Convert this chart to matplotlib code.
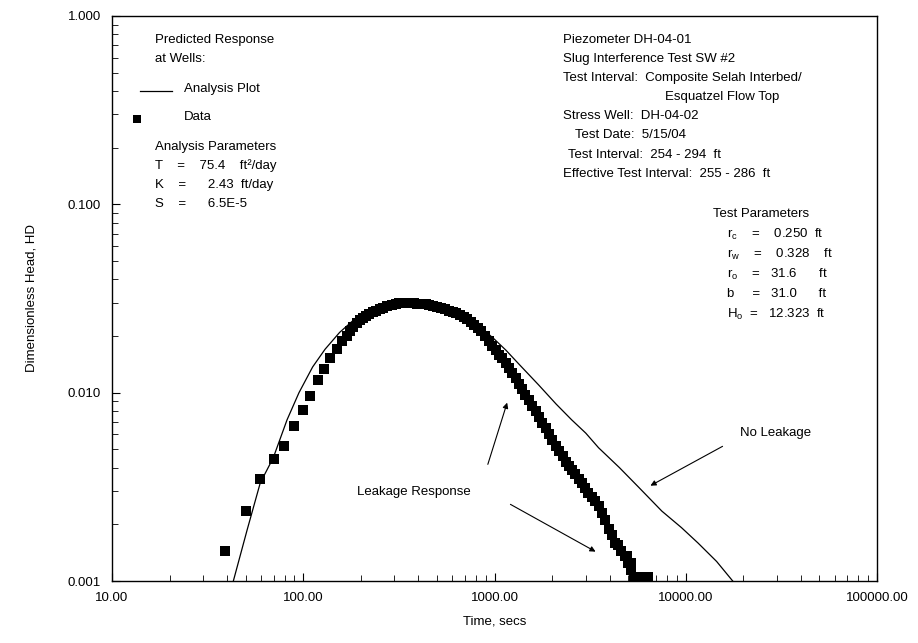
import matplotlib
matplotlib.use("Agg")
from matplotlib import pyplot as plt
from matplotlib.ticker import FixedLocator, FixedFormatter, LogLocator, NullFormatter

plt.rcParams['font.family'] = ['Liberation Sans', 'DejaVu Sans']

# measured data (time, secs / dimensionless head)
data_t = [39.2, 50.4, 59.6, 70.5, 79.4, 89.5, 99.7, 108, 119, 128, 138, 150, 159, 169,
          175, 182, 190, 198, 205, 213, 222, 231, 241, 251, 262, 275, 290, 305, 318, 330,
          345, 360, 378, 395, 415, 436, 456, 478, 500, 525, 550, 578, 605, 631, 660, 690,
          720, 750, 782, 815, 850, 890, 936, 975, 1015, 1060, 1100, 1148, 1190, 1240,
          1290, 1340, 1390, 1450, 1510, 1570, 1640, 1704, 1780, 1850, 1930, 2010, 2088,
          2180, 2270, 2360, 2450, 2530, 2640, 2750, 2870, 2990, 3101, 3230, 3370, 3520,
          3660, 3802, 3960, 4130, 4285, 4445, 4605, 4800, 5010, 5190, 5380, 5600, 5850,
          6100, 6350, 5150, 4950]
data_h = [0.00144, 0.00236, 0.00349, 0.00446, 0.00523, 0.00667, 0.00812, 0.00964, 0.0117,
          0.0134, 0.0152, 0.0171, 0.0189, 0.0199, 0.0212, 0.0224, 0.0234, 0.0242, 0.0249,
          0.0255, 0.0262, 0.0268, 0.0273, 0.0278, 0.0283, 0.0288, 0.0292, 0.0296, 0.0299,
          0.0300, 0.0300, 0.0299, 0.0298, 0.0297, 0.0295, 0.0294, 0.0292, 0.0289, 0.0285,
          0.0281, 0.0277, 0.0273, 0.0269, 0.0265, 0.0259, 0.0252, 0.0245, 0.0238, 0.0230,
          0.0221, 0.0212, 0.0201, 0.0187, 0.0177, 0.0168, 0.0159, 0.0152, 0.0144, 0.0136,
          0.0127, 0.0119, 0.0111, 0.0104, 0.0097, 0.0091, 0.0085, 0.0080, 0.0074, 0.0069,
          0.0065, 0.0060, 0.0056, 0.0052, 0.0049, 0.0046, 0.0043, 0.0041, 0.0039, 0.0037,
          0.0035, 0.0033, 0.0031, 0.00295, 0.0028, 0.00265, 0.0025, 0.0023, 0.0021, 0.0019,
          0.00175, 0.0016, 0.00155, 0.00145, 0.00135, 0.00125, 0.00115, 0.00105, 0.00105,
          0.00105, 0.00105, 0.00105, 0.00125, 0.00135]

# analysis (type) curve, no leakage
fit_t = [43.1, 50.9, 59.6, 69.7, 82.3, 95, 112, 130, 155, 185, 215, 260, 330, 420, 530,
         680, 850, 1000, 1148, 1340, 1700, 2100, 2530, 3000, 3500, 4500, 5650, 7500, 9500,
         11600, 14500, 17600]
fit_h = [0.001, 0.00187, 0.00332, 0.00451, 0.00718, 0.0100, 0.0137, 0.0170, 0.0209,
         0.0245, 0.0267, 0.0290, 0.0301, 0.0297, 0.0282, 0.0255, 0.0222, 0.0192, 0.0168,
         0.0142, 0.0110, 0.0087, 0.00718, 0.0061, 0.0051, 0.0040, 0.00316, 0.00235,
         0.00192, 0.00159, 0.00127, 0.001]

x_ticks = [10, 100, 1000, 10000, 100000]
x_labels = ["10.00", "100.00", "1000.00", "10000.00", "100000.00"]
y_ticks = [0.001, 0.01, 0.1, 1]
y_labels = ["0.001", "0.010", "0.100", "1.000"]

fig = plt.figure(figsize=(9.18, 6.43), dpi=100)
ax = fig.add_axes([112/918, 1-581/643, 765/918, 565/643])
ax.plot(fit_t, fit_h, color='black', lw=0.9)
ax.plot(data_t, data_h, 's', color='black', ms=6.5, mew=0)
ax.set_xscale('log')
ax.set_yscale('log')
ax.set_xlim(10, 100000)
ax.set_ylim(0.001, 1)
for s in ax.spines.values():
    s.set_linewidth(1.0)
ax.xaxis.set_major_locator(FixedLocator(x_ticks))
ax.xaxis.set_major_formatter(FixedFormatter(x_labels))
ax.yaxis.set_major_locator(FixedLocator(y_ticks))
ax.yaxis.set_major_formatter(FixedFormatter(y_labels))
ax.xaxis.set_minor_locator(LogLocator(base=10, subs=range(2, 10)))
ax.yaxis.set_minor_locator(LogLocator(base=10, subs=range(2, 10), numticks=20))
ax.xaxis.set_minor_formatter(NullFormatter())
ax.yaxis.set_minor_formatter(NullFormatter())
ax.tick_params(which='major', direction='in', length=6, labelsize=9.5, pad=8)
ax.tick_params(which='minor', direction='in', length=4)
ax.set_xlabel("Time, secs", fontsize=9.5, labelpad=8)
ax.set_ylabel("Dimensionless Head, HD", fontsize=9.5, labelpad=22)

def t(px, py, s, **kw):
    fig.text(px/918, 1-py/643, s, fontsize=9.5, va='center', **kw)

t(155, 40, "Predicted Response")
t(155, 59, "at Wells:")
fig.add_artist(plt.Line2D([140/918, 172/918], [1-91/643, 1-91/643], color='black', lw=0.9))
t(184, 89, "Analysis Plot")
fig.add_artist(plt.Line2D([137/918], [1-119/643], marker='s', color='black', ms=6, mew=0))
t(184, 117, "Data")
t(155, 147, "Analysis Parameters")
t(155, 166, "T    =    75.4    ft²/day")
t(155, 185, "K    =      2.43  ft/day")
t(155, 204, "S    =      6.5E-5")

t(563, 40, "Piezometer DH-04-01")
t(563, 59, "Slug Interference Test SW #2")
t(563, 78, "Test Interval:  Composite Selah Interbed/")
t(665, 97, "Esquatzel Flow Top")
t(563, 116, "Stress Well:  DH-04-02")
t(575, 135, "Test Date:  5/15/04")
t(568, 155, "Test Interval:  254 - 294  ft")
t(563, 174, "Effective Test Interval:  255 - 286  ft")

t(713, 214, "Test Parameters")
t(727, 234, "r$_\\mathregular{c}$    =    0.250  ft")
t(727, 254, "r$_\\mathregular{w}$    =    0.328    ft")
t(727, 274, "r$_\\mathregular{o}$    =   31.6      ft")
t(727, 294, "b     =   31.0      ft")
t(727, 314, "H$_\\mathregular{o}$  =   12.323  ft")

t(740, 433, "No Leakage")
t(357, 492, "Leakage Response")

def arrow(x0, y0, x1, y1):
    fig.add_artist(matplotlib.patches.FancyArrowPatch(
        (x0/918, 1-y0/643), (x1/918, 1-y1/643), transform=fig.transFigure,
        arrowstyle='-|>', mutation_scale=8, color='black', lw=0.8))

arrow(725, 445, 648, 487)
arrow(487, 467, 508, 400)
arrow(508, 503, 598, 553)

fig.savefig("out.png", dpi=100)
